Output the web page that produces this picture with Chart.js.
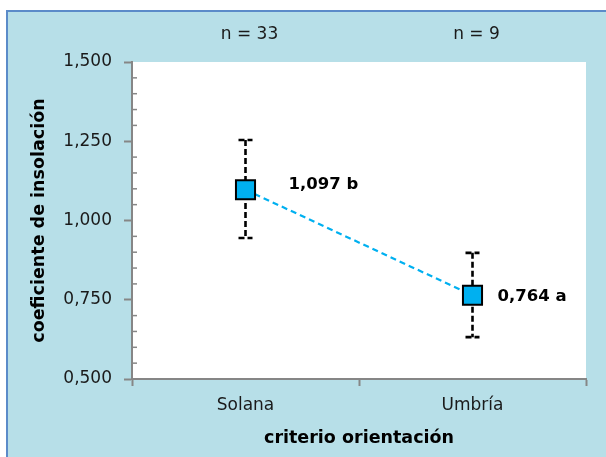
<!DOCTYPE html>
<html>
<head>
<meta charset="utf-8">
<script src="https://cdn.jsdelivr.net/npm/chart.js@4/dist/chart.umd.min.js"></script>
<style>
  html, body { margin: 0; padding: 0; background: #ffffff; }
  canvas { display: block; }
</style>
</head>
<body>
<canvas id="c" width="606" height="457"></canvas>
<script>
// ---- data ----
const categories = ['Solana', 'Umbría'];
const sampleLabels = ['n = 33', 'n = 9'];
const means = [1.097, 0.764];
const errUpper = [1.254, 0.898];
const errLower = [0.945, 0.632];
const valueLabels = ['1,097 b', '0,764 a'];
const yTicks = [0.5, 0.75, 1.0, 1.25, 1.5];

const FONT = '"DejaVu Sans", sans-serif';
const AXIS_GRAY = '#868686';
const BG_BLUE = '#b7dfe8';
const POINT_BLUE = '#00b0f0';

const fmt = v => v.toFixed(3).replace('.', ',');

const decorPlugin = {
  id: 'decor',
  beforeDraw(chart) {
    const ctx = chart.ctx, a = chart.chartArea;
    ctx.save();
    ctx.fillStyle = '#ffffff';
    ctx.fillRect(0, 0, chart.width, chart.height);
    ctx.fillStyle = BG_BLUE;
    ctx.fillRect(6, 10, chart.width, chart.height);
    ctx.strokeStyle = '#5b8bc9';
    ctx.lineWidth = 2;
    ctx.beginPath();
    ctx.moveTo(7, chart.height + 2);
    ctx.lineTo(7, 11);
    ctx.lineTo(chart.width + 2, 11);
    ctx.stroke();
    ctx.fillStyle = '#ffffff';
    ctx.fillRect(a.left, a.top, a.right - a.left, a.bottom - a.top);
    ctx.restore();
  },
  afterDraw(chart) {
    // minor ticks on y axis (inside the plot)
    const ctx = chart.ctx, y = chart.scales.y;
    ctx.save();
    ctx.strokeStyle = AXIS_GRAY;
    ctx.lineWidth = 1.5;
    const x0 = y.right + 1;
    for (let i = 0; i < yTicks.length - 1; i++) {
      const step = (yTicks[i + 1] - yTicks[i]) / 5;
      for (let k = 1; k < 5; k++) {
        const py = y.getPixelForValue(yTicks[i] + k * step);
        ctx.beginPath();
        ctx.moveTo(x0, py);
        ctx.lineTo(x0 + 4, py);
        ctx.stroke();
      }
    }
    ctx.restore();
  }
};

const errorBarPlugin = {
  id: 'errorBars',
  beforeDatasetsDraw(chart) {
    const ctx = chart.ctx, xs = chart.scales.x, ys = chart.scales.y;
    ctx.save();
    ctx.strokeStyle = '#000000';
    ctx.lineWidth = 2.6;
    ctx.setLineDash([6, 3]);
    categories.forEach((c, i) => {
      const px = xs.getPixelForValue(i);
      const pt = ys.getPixelForValue(errUpper[i]);
      const pb = ys.getPixelForValue(errLower[i]);
      ctx.beginPath();
      ctx.moveTo(px, pt);
      ctx.lineTo(px, pb);
      ctx.stroke();
      ctx.beginPath();
      ctx.moveTo(px - 7, pt); ctx.lineTo(px + 7, pt);
      ctx.moveTo(px - 7, pb); ctx.lineTo(px + 7, pb);
      ctx.stroke();
    });
    ctx.restore();
  }
};

const valueLabelPlugin = {
  id: 'valueLabels',
  afterDatasetsDraw(chart, args, opts) {
    const ctx = chart.ctx;
    const meta = chart.getDatasetMeta(0);
    ctx.save();
    ctx.font = 'bold 16.5px ' + FONT;
    ctx.fillStyle = '#000000';
    ctx.textAlign = 'left';
    ctx.textBaseline = 'middle';
    meta.data.forEach((pt, i) => {
      ctx.fillText(valueLabels[i], pt.x + opts.dx[i], pt.y + opts.dy[i]);
    });
    ctx.restore();
  }
};

new Chart(document.getElementById('c'), {
  type: 'line',
  data: {
    labels: categories,
    datasets: [{
      data: means,
      borderColor: POINT_BLUE,
      borderWidth: 2.2,
      borderDash: [6, 4],
      pointStyle: 'rect',
      pointRadius: 13.5,
      pointHoverRadius: 13.5,
      pointBackgroundColor: POINT_BLUE,
      pointBorderColor: '#000000',
      pointBorderWidth: 2,
      fill: false,
      xAxisID: 'x',
      yAxisID: 'y'
    }]
  },
  options: {
    responsive: false,
    animation: false,
    devicePixelRatio: 1,
    layout: { padding: { left: 0, top: 0, right: 20, bottom: 0 } },
    plugins: {
      legend: { display: false },
      tooltip: { enabled: false },
      valueLabels: { dx: [43, 25], dy: [-5, 1] }
    },
    scales: {
      x: {
        type: 'category',
        position: 'bottom',
        offset: true,
        grid: { display: true, offset: true, drawOnChartArea: false, drawTicks: true, tickLength: 7, tickColor: AXIS_GRAY, tickWidth: 2 },
        border: { display: true, color: AXIS_GRAY, width: 2 },
        ticks: { color: '#1a1a1a', font: { family: FONT, size: 17 }, padding: 9 },
        title: { display: true, text: 'criterio orientación', color: '#000000', font: { family: FONT, size: 17.5, weight: 'bold' }, padding: { top: 0, bottom: 8 } },
        afterFit(s) { s.height = 78; }
      },
      xTop: {
        type: 'category',
        position: 'top',
        labels: sampleLabels,
        offset: true,
        grid: { display: false, drawTicks: false },
        border: { display: false },
        ticks: { color: '#1a1a1a', font: { family: FONT, size: 17 }, padding: 17, labelOffset: 4 },
        afterFit(s) { s.height = 62; }
      },
      y: {
        type: 'linear',
        position: 'left',
        min: 0.5,
        max: 1.5,
        afterBuildTicks(s) { s.ticks = yTicks.map(v => ({ value: v })); },
        grid: { display: true, drawOnChartArea: false, drawTicks: true, tickLength: 8, tickColor: AXIS_GRAY, tickWidth: 2 },
        border: { display: true, color: AXIS_GRAY, width: 2 },
        ticks: { color: '#1a1a1a', font: { family: FONT, size: 17 }, padding: 12, callback: v => fmt(v) },
        title: { display: true, text: 'coeficiente de insolación', color: '#000000', font: { family: FONT, size: 17.5, weight: 'bold' }, padding: { top: 29, bottom: 0 } },
        afterFit(s) { s.width = 132; }
      }
    }
  },
  plugins: [decorPlugin, errorBarPlugin, valueLabelPlugin]
});
</script>
</body>
</html>
